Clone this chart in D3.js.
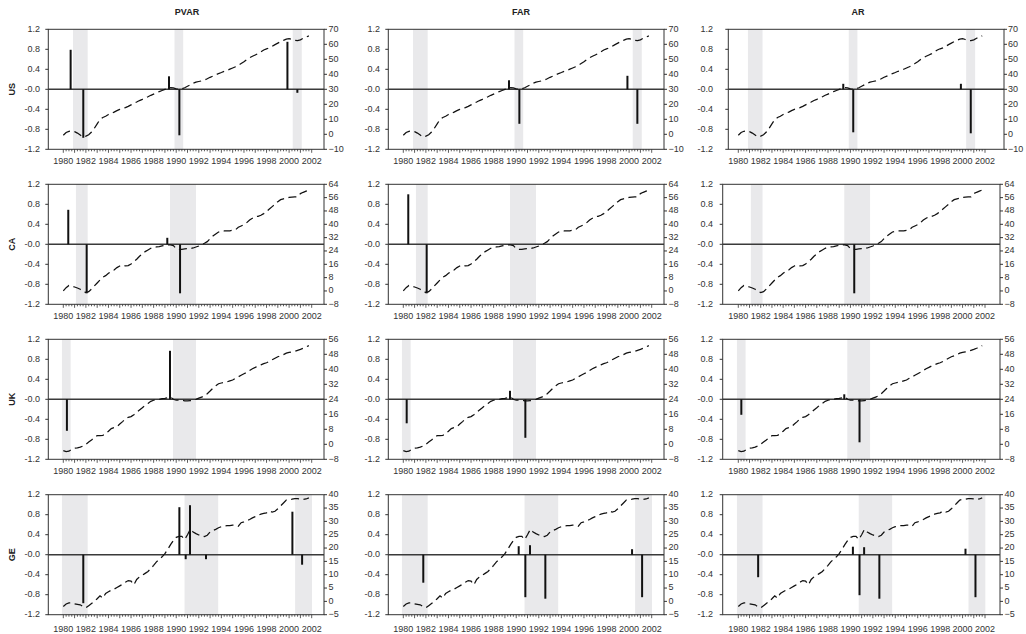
<!DOCTYPE html>
<html><head><meta charset="utf-8">
<script src="https://cdn.jsdelivr.net/npm/d3@7"></script>
<style>body{margin:0;background:#fff}svg{display:block;font-family:"Liberation Sans",Arial,sans-serif}</style>
</head><body><svg id="c" width="1026" height="634"></svg>
<script>
// ---------------- DATA ----------------
const models = ["PVAR", "FAR", "AR"];
const countries = ["US", "CA", "UK", "GE"];
const startYear = 1980; // first quarter of the quarterly series
const yearTicks = [1980,1982,1984,1986,1988,1990,1992,1994,1996,1998,2000,2002];
const leftTicks = [1.2, 0.8, 0.4, 0, -0.4, -0.8, -1.2];
const leftTickLabels = ["1.2","0.8","0.4","-0.0","-0.4","-0.8","-1.2"];
const usRightTicks = [-10,0,10,20,30,40,50,60,70];
const caRightTicks = [-8,0,8,16,24,32,40,48,56,64];
const ukRightTicks = [-8,0,8,16,24,32,40,48,56];
const geRightTicks = [-5,0,5,10,15,20,25,30,35,40];

const usLine = [-0.6,1.2,2.0,2.2,1.8,0.8,-0.5,-1.8,-1.2,-0.3,1.5,4.0,7.0,9.8,11.2,12.0,13.2,14.0,14.8,15.8,16.6,17.2,17.8,18.6,19.6,20.6,21.5,22.5,23.3,24.2,25.0,26.0,26.8,27.6,28.5,29.2,29.9,30.6,31.1,30.9,30.3,30.0,30.3,31.0,32.0,33.0,34.0,34.8,35.2,35.6,36.2,37.0,38.0,38.8,39.6,40.5,41.2,42.0,42.6,43.4,44.2,45.0,46.0,47.2,48.3,49.8,51.0,52.0,52.9,53.8,55.0,56.2,57.0,57.6,58.6,59.8,60.8,61.8,62.6,63.4,63.8,63.2,62.6,62.4,63.0,64.0,64.8,65.6];
const caLine = [0,2.0,3.3,3.0,2.4,1.8,1.0,0.0,-1.0,-0.4,1.2,3.0,4.8,6.6,8.2,9.2,10.6,11.8,12.6,14.0,15.0,15.6,15.0,15.2,16.2,17.6,19.0,20.8,22.2,23.6,24.6,25.6,26.2,26.4,26.6,27.0,27.4,27.6,27.7,27.2,25.4,25.0,25.0,25.3,25.4,25.4,25.8,26.4,27.0,27.8,28.6,29.6,31.4,33.0,34.2,35.4,35.8,36.0,36.0,36.1,36.4,36.7,38.2,39.0,39.8,41.0,42.6,43.6,44.6,44.8,45.4,46.4,47.6,49.2,50.6,52.0,53.6,54.8,55.3,55.6,56.2,56.3,56.4,56.5,58.4,59.2,59.9,60.6];
const ukLine = [-3.4,-3.9,-3.7,-2.6,-2.1,-1.9,-1.5,-0.9,0.0,1.2,2.3,3.6,4.6,4.6,4.8,5.6,7.0,8.4,8.9,9.4,10.8,12.1,13.6,14.4,14.8,15.8,17.0,18.3,19.5,20.8,21.8,22.9,23.5,23.8,24.0,24.3,24.5,24.8,25.2,24.0,23.5,23.5,23.5,23.2,23.1,23.3,23.5,24.0,24.6,25.2,25.8,27.0,28.4,29.9,31.2,32.3,32.7,33.0,33.3,33.8,34.3,35.2,36.0,36.8,37.6,38.4,39.4,40.3,41.0,41.8,42.4,43.0,43.5,44.2,45.1,45.9,46.7,47.2,47.8,48.6,49.0,49.3,49.6,50.1,50.6,51.2,51.9,52.6];
const geLine = [-1.9,-1.0,-0.6,-0.6,-0.9,-1.1,-1.3,-2.0,-2.4,-1.6,-0.8,0.0,1.0,2.1,1.2,3.0,3.6,4.2,4.6,5.2,5.8,6.4,7.2,7.8,7.6,6.2,8.2,9.2,9.8,10.5,11.2,12.3,13.5,14.8,15.8,16.7,17.9,19.5,21.3,22.8,24.0,24.4,24.4,23.2,25.0,27.0,26.0,25.4,24.9,24.6,24.3,24.8,26.0,26.6,27.0,27.6,28.0,28.3,28.4,28.4,28.6,28.6,28.2,29.5,29.8,30.2,30.7,31.3,31.8,32.3,32.7,33.0,33.2,33.9,33.5,33.8,34.7,35.8,36.9,38.0,38.2,38.3,38.5,38.5,38.4,38.2,38.4,38.8];

const usShade = [[1980.86,1982.16],[1989.85,1990.62],[2000.32,2001.12]];
const caShade = [[1981.12,1982.16],[1989.45,1991.75]];
const ukShade = [[1979.88,1980.65],[1989.72,1991.75]];
const geShade = [[1979.88,1982.16],[1990.74,1993.72],[2000.53,2002.03]];

const usPvarBars = [[1980.65,0.79],[1981.77,-0.97],[1989.36,0.26],[1990.28,-0.92],[1999.85,0.95],[2000.73,-0.07]];
const usFarBars  = [[1989.36,0.18],[1990.28,-0.69],[1999.85,0.27],[2000.73,-0.69]];
const usArBars   = [[1989.36,0.11],[1990.25,-0.86],[1999.85,0.11],[2000.73,-0.88]];
const caPvarBars = [[1980.44,0.69],[1982.07,-0.98],[1989.21,0.13],[1990.34,-0.98]];
const caFarBars  = [[1980.44,1.0],[1982.07,-0.98]];
const caArBars   = [[1990.34,-0.98]];
const ukPvarBars = [[1980.32,-0.63],[1989.45,0.97]];
const ukFarBars  = [[1980.30,-0.48],[1989.45,0.17],[1990.81,-0.77]];
const ukArBars   = [[1980.27,-0.31],[1989.45,0.10],[1990.81,-0.86]];
const gePvarBars = [[1981.77,-0.97],[1990.28,0.95],[1990.84,-0.09],[1991.22,0.99],[1992.64,-0.09],[2000.29,0.86],[2001.15,-0.20]];
const geFarBars  = [[1981.77,-0.56],[1990.22,0.17],[1990.81,-0.85],[1991.22,0.19],[1992.58,-0.88],[2000.26,0.11],[2001.15,-0.85]];
const geArBars   = [[1981.77,-0.45],[1990.22,0.16],[1990.81,-0.81],[1991.22,0.15],[1992.58,-0.88],[2000.26,0.12],[2001.15,-0.85]];

// ---------------- LAYOUT ----------------
const lines = [usLine, caLine, ukLine, geLine];
const shades = [usShade, caShade, ukShade, geShade];
const rightTicks = [usRightTicks, caRightTicks, ukRightTicks, geRightTicks];
const bars = [[usPvarBars, usFarBars, usArBars],[caPvarBars, caFarBars, caArBars],[ukPvarBars, ukFarBars, ukArBars],[gePvarBars, geFarBars, geArBars]];

const rowTop = [29.3, 184.3, 339.3, 494.7];
const plotH = 120;
const xLabOff = [12, 12, 12, 15];
const dataX = [[63.3, 311.7],[403.3, 651.7],[738.3, 985]]; // 1980 -> 2002 per column
function frame(r, c){
  if (c === 0) return {L:48.3, R:324, lab:40, rlab:328.5};
  if (c === 1) return {L:388.3, R:664, lab:380, rlab:668.5};
  if (r === 0) return {L:728.3, R:1004, lab:713, rlab:1008};
  return {L:722.7, R:1000, lab:713, rlab:1004.5};
}
const titleX = [187, 521, 858];

const svg = d3.select("#c");
const textCol = "#333";

models.forEach((m, c) => {
  svg.append("text").attr("x", titleX[c]).attr("y", 13).attr("text-anchor","middle")
    .attr("dominant-baseline","middle").attr("font-size", 9).attr("font-weight","bold")
    .attr("fill","#222").text(m);
});
countries.forEach((cn, r) => {
  const cy = rowTop[r] + plotH/2;
  svg.append("text").attr("transform", `translate(13,${cy}) rotate(-90)`).attr("text-anchor","middle")
    .attr("dominant-baseline","middle").attr("font-size", 9).attr("font-weight","bold")
    .attr("fill","#222").text(cn);
});

const quarterTicks = d3.range(0, 89).map(q => startYear + q/4);

countries.forEach((cn, r) => {
  models.forEach((m, c) => {
    const f = frame(r, c);
    const top = rowTop[r], bot = rowTop[r] + plotH;
    const g = svg.append("g");
    const x = d3.scaleLinear().domain([1980, 2002]).range(dataX[c]);
    const yL = d3.scaleLinear().domain([-1.2, 1.2]).range([bot, top]);
    const rt = rightTicks[r];
    const yR = d3.scaleLinear().domain([rt[0], rt[rt.length-1]]).range([bot, top]);

    // shading
    g.selectAll("rect.sh").data(shades[r]).join("rect").attr("class","sh")
      .attr("x", d => x(d[0])).attr("width", d => x(d[1]) - x(d[0]))
      .attr("y", top).attr("height", plotH).attr("fill", "#e9e9eb");

    // zero line
    g.append("line").attr("x1", f.L).attr("x2", f.R).attr("y1", yL(0)).attr("y2", yL(0))
      .attr("stroke", "#3a3a3a").attr("stroke-width", 1.6);

    // bars
    g.selectAll("line.bar").data(bars[r][c]).join("line").attr("class","bar")
      .attr("x1", d => x(d[0])).attr("x2", d => x(d[0]))
      .attr("y1", yL(0)).attr("y2", d => yL(d[1]))
      .attr("stroke", "#111").attr("stroke-width", 2);

    // dashed line
    const ln = d3.line().x((d, i) => x(startYear + i/4)).y(d => yR(d));
    g.append("path").attr("d", ln(lines[r])).attr("fill","none")
      .attr("stroke","#111").attr("stroke-width", 1.25).attr("stroke-dasharray","8,4.5");

    // frame
    g.append("rect").attr("x", f.L).attr("y", top).attr("width", f.R - f.L).attr("height", plotH)
      .attr("fill","none").attr("stroke","#333").attr("stroke-width", 1);

    // left ticks
    leftTicks.forEach((v, k) => {
      g.append("line").attr("x1", f.L - 3).attr("x2", f.L).attr("y1", yL(v)).attr("y2", yL(v))
        .attr("stroke","#333");
      g.append("text").attr("x", f.lab).attr("y", yL(v)).attr("text-anchor","end")
        .attr("dominant-baseline","middle").attr("font-size", 9).attr("fill", textCol)
        .text(leftTickLabels[k]);
    });
    // right ticks
    rt.forEach(v => {
      g.append("line").attr("x1", f.R).attr("x2", f.R + 3).attr("y1", yR(v)).attr("y2", yR(v))
        .attr("stroke","#333");
      g.append("text").attr("x", f.rlab).attr("y", yR(v)).attr("text-anchor","start")
        .attr("dominant-baseline","middle").attr("font-size", 9).attr("fill", textCol)
        .text(d3.format("d")(v));
    });
    // x ticks
    quarterTicks.forEach((t, q) => {
      const len = (q % 4 === 0) ? 3.5 : 2;
      g.append("line").attr("x1", x(t)).attr("x2", x(t)).attr("y1", bot).attr("y2", bot + len)
        .attr("stroke","#333").attr("stroke-width", 0.8);
    });
    yearTicks.forEach(t => {
      g.append("text").attr("x", x(t)).attr("y", bot + xLabOff[r]).attr("text-anchor","middle")
        .attr("dominant-baseline","middle").attr("font-size", 9).attr("fill", textCol).text(t);
    });
  });
});
</script></body></html>
